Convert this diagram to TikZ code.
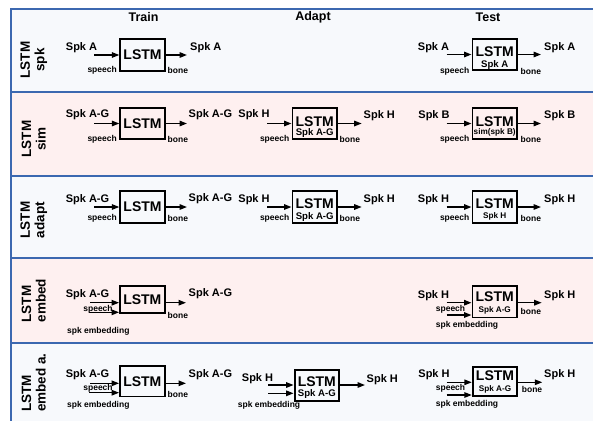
\documentclass[tikz,border=0pt]{standalone}
\usepackage{fontspec}
\setmainfont{Liberation Sans}
\usetikzlibrary{arrows.meta}
\definecolor{frameblue}{RGB}{60,104,176}
\definecolor{rowblue}{RGB}{247,249,252}
\definecolor{rowpink}{RGB}{254,240,240}
\tikzset{
  frame/.style={draw=frameblue, line width=2.2pt},
  head/.style={inner sep=0pt, font=\fontsize{12.5}{13}\selectfont\bfseries},
  rowlab/.style={inner sep=0pt, rotate=90, font=\fontsize{13.5}{14.5}\selectfont\bfseries},
  lstm/.style={draw, line width=1.9pt, inner sep=0pt, minimum width=44.5pt, minimum height=31.5pt, font=\fontsize{14}{14}\selectfont\bfseries},
  lstmtxt/.style={inner sep=0pt, font=\fontsize{14}{14}\selectfont\bfseries},
  inA/.style={inner sep=0pt, font=\fontsize{9.6}{10}\selectfont\bfseries},
  inB/.style={inner sep=0pt, font=\fontsize{8.2}{9}\selectfont\bfseries},
  spk/.style={inner sep=0pt, font=\fontsize{11}{11}\selectfont\bfseries},
  lab/.style={inner sep=0pt, font=\fontsize{8.5}{9}\selectfont\bfseries},
  arr/.style={line width=1.4pt, -{Triangle[length=7.5pt,width=5.5pt]}},
}
\begin{document}
\begin{tikzpicture}[x=1pt,y=-1pt]
\useasboundingbox (0,0) rectangle (593,421);
% backgrounds
\fill[rowblue] (11,9) rectangle (593,92);
\fill[rowpink] (11,92) rectangle (593,176);
\fill[rowblue] (11,176) rectangle (593,258);
\fill[rowpink] (11,258) rectangle (593,343);
\fill[rowblue] (11,343) rectangle (593,421);
\draw[frame] (593,9) -- (11,9) -- (11,421);
\foreach \yy in {92,176,258,343} \draw[frame] (11,\yy) -- (593,\yy);
% headers
\node[head] (hTrain) at (143.5,17) {Train};
\node[head] (hAdapt) at (313,17) {Adapt};
\node[head] (hTest) at (488,17) {Test};
% row labels
\node[rowlab, align=center] (r1) at (33.7,60) {LSTM\\spk};
\node[rowlab, align=center] (r2) at (33.7,139) {LSTM\\sim};
\node[rowlab, align=center] (r3) at (33.7,220) {LSTM\\adapt};
\node[rowlab, align=left] (r4) at (33.7,300.5) {LSTM\\embed};
\node[rowlab, align=left] (r5) at (33.7,382.5) {LSTM\\embed a.};

% ===== Row 1 =====
% train
\node[lstm, minimum height=32.5pt] (b11) at (142.5,55) {LSTM};
\coordinate (i11) at (94,55);
\coordinate (o11) at (187,55);
\draw[arr] (i11) -- (b11.west);
\draw[arr] (b11.east) -- (o11);
\node[spk] (li11) at (81.5,48) {Spk A};
\node[lab, anchor=east] (sp11) at (117,70.5) {speech};
\node[lab, anchor=west] (bo11) at (167.5,70.5) {bone};
\node[spk, anchor=west] (lo11) at (190,48) {Spk A};
% test
\node[lstm] (b13) at (494.7,54.5) {};
\node[lstmtxt] (t13) at (494.7,51.5) {LSTM};
\node[inA] (n13) at (494.7,65) {Spk A};
\coordinate (i13) at (446.7,54.5);
\coordinate (o13) at (541,54.5);
\draw[arr] (i13) -- (b13.west);
\draw[arr] (b13.east) -- (o13);
\node[spk] (li13) at (433.5,48) {Spk A};
\node[lab, anchor=east] (sp13) at (469.5,71) {speech};
\node[lab, anchor=west] (bo13) at (520.5,71) {bone};
\node[spk, anchor=west] (lo13) at (544,48) {Spk A};

% ===== Row 2 =====
\node[lstm] (b21) at (142.5,123.5) {LSTM};
\coordinate (i21) at (94,123.5);
\coordinate (o21) at (187,123.5);
\draw[arr] (i21) -- (b21.west);
\draw[arr] (b21.east) -- (o21);
\node[spk] (li21) at (87.5,115) {Spk A-G};
\node[lab, anchor=east] (sp21) at (117,139) {speech};
\node[lab, anchor=west] (bo21) at (167.5,139) {bone};
\node[spk, anchor=west] (lo21) at (188.5,114.5) {Spk A-G};
% adapt
\node[lstm] (b22) at (314.7,123.5) {};
\node[lstmtxt] (t22) at (314.7,121.5) {LSTM};
\node[inA] (n22) at (314.7,133.5) {Spk A-G};
\coordinate (i22) at (267,123.5);
\coordinate (o22) at (361.7,123.5);
\draw[arr] (i22) -- (b22.west);
\draw[arr] (b22.east) -- (o22);
\node[spk] (li22) at (254,114.5) {Spk H};
\node[lab, anchor=east] (sp22) at (289.5,139) {speech};
\node[lab, anchor=west] (bo22) at (339.5,139.5) {bone};
\node[spk, anchor=west] (lo22) at (363.5,116) {Spk H};
% test
\node[lstm] (b23) at (494.7,123.5) {};
\node[lstmtxt] (t23) at (494.7,121.5) {LSTM};
\node[inB] (n23) at (494.7,132.7) {sim(spk B)};
\coordinate (i23) at (446.7,123.5);
\coordinate (o23) at (541,123.5);
\draw[arr] (i23) -- (b23.west);
\draw[arr] (b23.east) -- (o23);
\node[spk] (li23) at (434,116) {Spk B};
\node[lab, anchor=east] (sp23) at (469.5,139) {speech};
\node[lab, anchor=west] (bo23) at (520.5,139.5) {bone};
\node[spk, anchor=west] (lo23) at (544,116) {Spk B};

% ===== Row 3 =====
\node[lstm] (b31) at (142.5,207) {LSTM};
\coordinate (i31) at (94,207);
\coordinate (o31) at (187,207);
\draw[arr] (i31) -- (b31.west);
\draw[arr] (b31.east) -- (o31);
\node[spk] (li31) at (87.5,200) {Spk A-G};
\node[lab, anchor=east] (sp31) at (117,218.3) {speech};
\node[lab, anchor=west] (bo31) at (167.5,218.3) {bone};
\node[spk, anchor=west] (lo31) at (188.5,199) {Spk A-G};
% adapt
\node[lstm] (b32) at (314.7,207) {};
\node[lstmtxt] (t32) at (314.7,203.5) {LSTM};
\node[inA] (n32) at (314.7,217.5) {Spk A-G};
\coordinate (i32) at (267,207);
\coordinate (o32) at (361.7,207);
\draw[arr] (i32) -- (b32.west);
\draw[arr] (b32.east) -- (o32);
\node[spk] (li32) at (254,200) {Spk H};
\node[lab, anchor=east] (sp32) at (289.5,218.3) {speech};
\node[lab, anchor=west] (bo32) at (339.5,218.3) {bone};
\node[spk, anchor=west] (lo32) at (363.5,200) {Spk H};
% test
\node[lstm] (b33) at (494.7,207) {};
\node[lstmtxt] (t33) at (494.7,203.5) {LSTM};
\node[inB] (n33) at (494.7,216.7) {Spk H};
\coordinate (i33) at (446.7,207);
\coordinate (o33) at (541,207);
\draw[arr] (i33) -- (b33.west);
\draw[arr] (b33.east) -- (o33);
\node[spk] (li33) at (433.5,200) {Spk H};
\node[lab, anchor=east] (sp33) at (469.5,218.3) {speech};
\node[lab, anchor=west] (bo33) at (520.5,218.3) {bone};
\node[spk, anchor=west] (lo33) at (544,200) {Spk H};

% ===== Row 4 =====
\node[lstm, minimum height=27.5pt] (b41) at (142.3,299.5) {LSTM};
\coordinate (i41a) at (90,302.7);
\coordinate (i41b) at (89,312.3);
\coordinate (o41) at (186,302.7);
\node[spk] (li41) at (87.5,295) {Spk A-G};
\node[lab] (sp41) at (98,309) {speech};
\draw[arr] (i41a) -- (i41a -| b41.west);
\draw[arr] (i41b) -- (i41b -| b41.west);
\draw[arr] (o41 -| b41.east) -- (o41);
\node[lab] (em41) at (98.3,331) {spk embedding};
\node[lab, anchor=west] (bo41) at (167.5,315.7) {bone};
\node[spk, anchor=west] (lo41) at (188.5,293.3) {Spk A-G};
% test
\node[lstm] (b43) at (494.7,301.7) {};
\node[lstmtxt] (t43) at (494.7,296.7) {LSTM};
\node[inB] (n43) at (494.7,310) {Spk A-G};
\coordinate (i43a) at (446.7,302.7);
\coordinate (i43b) at (446.7,315);
\coordinate (o43) at (541.7,302.7);
\node[spk] (li43) at (433.5,295.7) {Spk H};
\node[lab] (sp43) at (450.5,309) {speech};
\draw[arr] (i43a) -- (i43a -| b43.west);
\draw[arr] (i43b) -- (i43b -| b43.west);
\draw[arr] (o43 -| b43.east) -- (o43);
\node[lab] (em43) at (467,325) {spk embedding};
\node[lab, anchor=west] (bo43) at (520.5,311) {bone};
\node[spk, anchor=west] (lo43) at (544,295.7) {Spk H};

% ===== Row 5 =====
\node[lstm, minimum height=30.5pt] (b51) at (142.3,381.2) {LSTM};
\coordinate (i51a) at (90,383.3);
\coordinate (i51b) at (89,392.7);
\coordinate (o51) at (186,383.3);
\node[spk] (li51) at (87.5,375) {Spk A-G};
\node[lab] (sp51) at (98,388.3) {speech};
\draw[arr] (i51a) -- (i51a -| b51.west);
\draw[arr] (i51b) -- (i51b -| b51.west);
\draw[arr] (o51 -| b51.east) -- (o51);
\node[lab] (em51) at (98.3,405.7) {spk embedding};
\node[lab, anchor=west] (bo51) at (167.5,394.3) {bone};
\node[spk, anchor=west] (lo51) at (188.5,374.3) {Spk A-G};
% adapt
\node[lstm] (b52) at (316.8,385.3) {};
\node[lstmtxt] (t52) at (316.8,381.7) {LSTM};
\node[inA] (n52) at (316.8,394.3) {Spk A-G};
\coordinate (i52a) at (268.3,385);
\coordinate (i52b) at (268.3,393.3);
\coordinate (o52) at (365,385);
\node[spk] (li52) at (257.5,378.3) {Spk H};
\draw[arr] (i52a) -- (i52a -| b52.west);
\draw[arr] (i52b) -- (i52b -| b52.west);
\draw[arr] (o52 -| b52.east) -- (o52);
\node[lab] (em52) at (269,405) {spk embedding};
\node[spk, anchor=west] (lo52) at (366.5,379.3) {Spk H};
% test
\node[lstm, minimum height=29.5pt] (b53) at (495,381.5) {};
\node[lstmtxt] (t53) at (495,376) {LSTM};
\node[inB] (n53) at (495,389.3) {Spk A-G};
\coordinate (i53a) at (446.7,382.3);
\coordinate (i53b) at (446.7,395);
\coordinate (o53) at (542.3,382.3);
\node[spk] (li53) at (434,375) {Spk H};
\node[lab] (sp53) at (450.5,388.3) {speech};
\draw[arr] (i53a) -- (i53a -| b53.west);
\draw[arr] (i53b) -- (i53b -| b53.west);
\draw[arr] (o53 -| b53.east) -- (o53);
\node[lab] (em53) at (467,404.3) {spk embedding};
\node[lab, anchor=west] (bo53) at (521.7,389.3) {bone};
\node[spk, anchor=west] (lo53) at (544,375) {Spk H};
\end{tikzpicture}
\end{document}
